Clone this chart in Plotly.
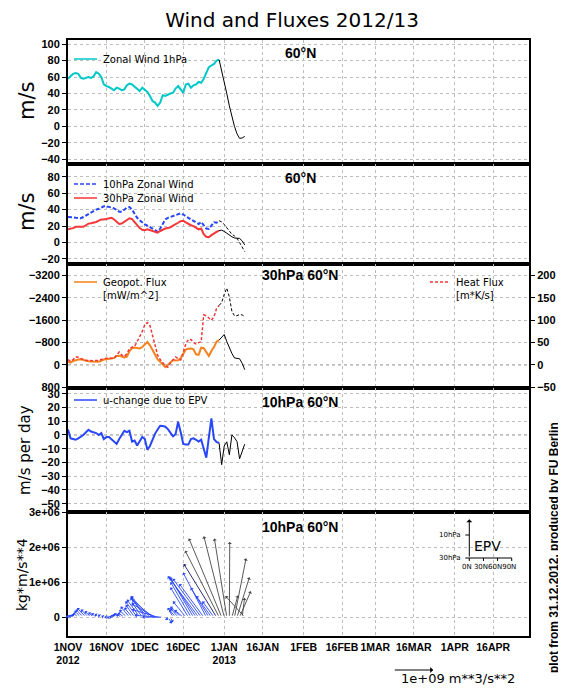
import pandas as pd
import plotly.graph_objects as go

# Analyse 1.11.-30.12.2012, Vorhersage 30.12.2012-9.1.2013
obs_dates = pd.date_range("2012-11-01", "2012-12-30", freq="D")
fc_dates = pd.date_range("2012-12-30", "2013-01-09", freq="D")
ep_dates = pd.date_range("2012-11-01", "2013-01-09", freq="D")

# Zonalwind 1hPa, 60N [m/s]
u1_obs = [58, 61, 64, 65, 64, 59, 58, 59, 60, 59,
          61, 66, 64, 60, 51, 49, 48, 46, 44, 47,
          46, 44, 45, 50, 52, 51, 48, 45, 43, 47,
          44, 42, 37, 31, 29, 25, 29, 38, 37, 39,
          40, 41, 46, 49, 45, 41, 51, 52, 47, 50,
          51, 54, 53, 58, 65, 72, 74, 76, 80, 81]
u1_fc = [81, 68, 55, 40, 25, 12, 0, -9, -14.5, -14, -12]

# Zonalwind 10hPa / 30hPa, 60N [m/s]
u10_obs = [31, 31, 30.5, 30, 29.5, 29.5, 31, 33, 35, 37,
           39, 40, 41, 43, 44, 44, 43.6, 42.5, 41.5, 39.5,
           37.5, 37.5, 40, 42.5, 43, 40, 35, 30, 27, 24,
           22, 20.5, 19, 17, 15, 13, 17, 23, 28, 30,
           31, 32, 33, 34.5, 35.5, 34, 31.5, 30, 28, 26,
           24, 22.5, 25, 21, 17, 16.5, 20, 24.5, 24, 26.5]
u10_fc = [26.5, 25, 22, 18, 14, 10, 8, 5, 0, -5, -11]
u30_obs = [16, 16.5, 17.5, 19, 19, 18.5, 19, 21, 23, 23.5,
           24, 25, 26.5, 28, 28, 28.5, 29.5, 30, 28, 25,
           22.5, 23, 25.5, 28, 29.5, 28.5, 25, 21, 17.5, 15.5,
           15, 16, 15, 14, 13, 12, 14, 16, 17, 17.5,
           18.5, 20.5, 22, 24, 26, 26.5, 24.5, 22.5, 21, 20,
           18, 16, 17, 10, 7, 6.5, 9, 11.5, 13, 14.5]
u30_fc = [14.5, 15, 13.5, 11, 9, 7, 5.5, 5, 5, 2, -3]

# Geopotentialfluss [mW/m^2] und Waermefluss [m*K/s], 30hPa 60N
geo_obs = [-120, -85, -140, -180, -195, -200, -170, -150, -135, -120,
           -118, -115, -118, -150, -195, -205, -215, -225, -250, -320,
           -330, -300, -270, -300, -500, -600, -620, -610, -590, -640,
           -720, -820, -700, -520, -330, -200, -110, -20, 80, 0,
           -90, -175, -160, -170, -240, -400, -550, -580, -590, -560,
           -380, -360, -620, -600, -480, -320, -500, -640, -830, -890]
geo_fc = [-890, -1000, -1090, -840, -600, -410, -250, -230, -220, -60, 170]
heat_obs = [12, 8, 12, 18, 17, 14, 12, 10, 9.5, 9.5,
            9.5, 10, 10, 12, 14.5, 15, 15, 15, 15, 22,
            29, 22, 19, 25, 36, 40, 42, 52, 63, 75,
            90, 95, 88, 65, 45, 22, 12, 5, -2, -5,
            5, 11, 18, 14, 11, 28, 47, 57, 57, 50,
            47, 50, 52, 112, 110, 105, 100, 108, 126, 133]
heat_fc = [133, 140, 158, 172, 152, 120, 110, 110, 113, 112, 108]

# Windaenderung durch EP-Flussdivergenz, 10hPa 60N [m/s/Tag]
epv_obs = [4, -2.5, -3, -3.5, -2.5, -1.5, 0, 2, 3.8, 2.5,
           1.8, 1.4, 0, 1.4, -3, -1.5, -1.5, -3, -4.5, -6.5,
           -3, 0.5, 3, 2, 3, -4.8, -4, -7.7, -4, -1.5,
           -3, -10.8, -8, -3, 1, 4, 6.7, 6.5, 6, 4.3,
           1.5, -1, 0.5, 9.6, 2, -6.5, -7, -7, -3, -2.5,
           -3.5, -4.8, -3.4, -10, -16.5, -1.7, 12, -3, -5, -6]
epv_fc = [-6, -21.6, -8, -5, -14.4, 0, -2, -4.8, -17.3, -12, -6.7]

# EP-Flussvektoren 10hPa 60N: Fy [1e9 m**3/s**2], Fz [kg*m/s**4]
ep_fy = [-0.05, -0.06, -0.08, -0.10, -0.13, -0.16, -0.19, -0.22, -0.19, -0.16,
         -0.13, -0.12, -0.10, -0.08, -0.06, -0.05, -0.05, -0.06, -0.08, -0.10,
         -0.13, -0.14, -0.16, -0.19, -0.22, -0.19, -0.22, -0.29, -0.32, -0.26,
         -0.35, -0.42, -0.48, -0.51, -0.58, -0.64, -0.64, -0.51, 0.06, 0.10,
         0.06, -0.13, -0.16, -0.19, -0.26, -0.22, -0.32, -0.45, -0.51, -0.58,
         -0.67, -0.77, -0.71, -0.61, -0.58, -0.45, -0.38, -0.29, -0.82, -0.85,
         -0.82, -0.51, -0.31, 0.01, 0.15, 0.29, 0.31, 0.28, 0.06, -0.48]
ep_fz = [0.04e6, 0.05e6, 0.06e6, 0.08e6, 0.12e6, 0.18e6, 0.22e6, 0.26e6, 0.22e6, 0.17e6,
         0.13e6, 0.11e6, 0.09e6, 0.07e6, 0.04e6, 0.0, -0.03e6, 0.02e6, 0.05e6, 0.08e6,
         0.10e6, 0.08e6, 0.12e6, 0.20e6, 0.30e6, 0.27e6, 0.35e6, 0.45e6, 0.50e6, 0.42e6,
         0.58e6, 0.55e6, 0.60e6, 0.50e6, 0.38e6, 0.22e6, 0.05e6, 0.0, -0.08e6, -0.18e6,
         -0.15e6, 0.27e6, 0.22e6, 0.25e6, 0.30e6, 0.20e6, 0.45e6, 0.85e6, 1.00e6, 1.12e6,
         1.15e6, 1.17e6, 1.10e6, 0.95e6, 1.27e6, 0.84e6, 0.60e6, 0.45e6, 1.52e6, 1.90e6,
         2.25e6, 2.31e6, 2.25e6, 2.15e6, 0.62e6, 1.68e6, 1.14e6, 0.74e6, 0.55e6, 0.60e6]

tick_dates = ["2012-11-01", "2012-11-16", "2012-12-01", "2012-12-16", "2013-01-01",
              "2013-01-16", "2013-02-01", "2013-02-16", "2013-03-01", "2013-03-16",
              "2013-04-01", "2013-04-16"]
tick_text = ["1NOV<br>2012", "16NOV", "1DEC", "16DEC", "1JAN<br>2013", "16JAN",
             "1FEB", "16FEB", "1MAR", "16MAR", "1APR", "16APR"]

CYAN = "rgb(0,200,200)"
BLUE = "rgb(40,70,250)"
RED = "rgb(245,55,55)"
ORANGE = "rgb(245,130,30)"
DAYS_PER_1E9 = 15.6   # Laenge des Referenzpfeils (1e+09) in Tagen

# Die Seite hat 8px Rand -> Figur 8px kleiner, Koordinaten unten in Seitenpixeln
OFF = 8
W, H = 566 - OFF, 695 - 2 * OFF

# Seitenpixel -> paper (Plotbereich 68..529 x 40..636)
def px(x):
    return (x - 68) / 461

def py(y):
    return (636 - y) / 596

fig = go.Figure()

line1 = dict(color=CYAN, width=2)
line10 = dict(color=BLUE, width=2, dash="4px,2px")
line30 = dict(color=RED, width=2)
line_geo = dict(color=ORANGE, width=2)
line_heat = dict(color=RED, width=1.5, dash="3px,2px")
line_epv = dict(color=BLUE, width=2)
fc_solid = dict(color="black", width=1)
fc_dash = dict(color="black", width=1, dash="3px,2px")

def add(x, y, line, xa, ya):
    fig.add_trace(go.Scatter(x=x, y=y, mode="lines", line=line, xaxis=xa, yaxis=ya,
                             showlegend=False))

add(obs_dates, u1_obs, line1, "x", "y")
add(fc_dates, u1_fc, fc_solid, "x", "y")
add(obs_dates, u10_obs, line10, "x2", "y2")
add(obs_dates, u30_obs, line30, "x2", "y2")
add(fc_dates, u10_fc, fc_dash, "x2", "y2")
add(fc_dates, u30_fc, fc_solid, "x2", "y2")
add(obs_dates, geo_obs, line_geo, "x3", "y3")
add(fc_dates, geo_fc, fc_solid, "x3", "y3")
add(obs_dates, heat_obs, line_heat, "x3", "y6")
add(fc_dates, heat_fc, fc_dash, "x3", "y6")
add(obs_dates, epv_obs, line_epv, "x4", "y4")
add(fc_dates, epv_fc, fc_solid, "x4", "y4")
# Fusspunkte der Vektoren (unsichtbar)
fig.add_trace(go.Scatter(x=ep_dates, y=[0] * len(ep_dates), mode="markers", showlegend=False,
                         marker=dict(size=1, color="rgba(0,0,0,0)"), xaxis="x5", yaxis="y5",
                         hoverinfo="skip"))

annotations = []
for i, d in enumerate(ep_dates):
    head = d + pd.Timedelta(days=ep_fy[i] * DAYS_PER_1E9)
    if d >= pd.Timestamp("2012-12-30"):
        col = "rgb(70,70,70)"
    elif d == pd.Timestamp("2012-12-29"):
        col = "rgb(20,20,110)"
    else:
        col = BLUE
    annotations.append(dict(
        x=head, y=ep_fz[i], ax=d, ay=0, xref="x5", yref="y5", axref="x5", ayref="y5",
        text="", showarrow=True, arrowhead=1, arrowsize=0.8, arrowwidth=0.9,
        arrowcolor=col, standoff=0, startstandoff=0))

tick_font = dict(family="Liberation Sans", size=11, color="black", weight="bold")
lab_font = dict(family="Liberation Sans", size=14, color="black", weight="bold")
leg_font = dict(family="DejaVu Sans", size=10, color="black")

def x_axis(anchor, labels=False):
    return dict(type="date", range=["2012-11-01", "2013-04-30"], anchor=anchor,
                tickvals=tick_dates, ticktext=tick_text, showticklabels=labels,
                tickfont=dict(family="Liberation Sans", size=10.5, color="black",
                              weight="bold"),
                tickangle=0, automargin=False, ticks="", showgrid=True,
                gridcolor="#bdbdbd", griddash="dot", gridwidth=1, showline=True,
                linecolor="black", linewidth=2, mirror=True, zeroline=False)

def y_axis(domain, rng, dtick, anchor, **kw):
    d = dict(domain=domain, range=rng, dtick=dtick, anchor=anchor, tickfont=tick_font,
             ticks="outside", ticklen=4, tickcolor="black", showgrid=True,
             gridcolor="#bdbdbd", griddash="dot", gridwidth=1, showline=True,
             linecolor="black", linewidth=2, mirror=True, zeroline=False,
             automargin=False)
    d.update(kw)
    return d

def dom(y0, y1):
    return [py(y1), py(y0)]

shapes = []
for yr in ["y", "y2", "y3", "y4"]:
    shapes.append(dict(type="line", xref="x domain", yref=yr, x0=0, x1=1, y0=0, y1=0,
                       line=dict(color="#909090", width=1, dash="3px,3px"), layer="below"))

# Legendeneintraege
for x0, x1, yy, ln, txt in [
        (74, 97, 59, line1, "Zonal Wind 1hPa"),
        (74, 97, 184, line10, "10hPa Zonal Wind"),
        (74, 97, 198, line30, "30hPa Zonal Wind"),
        (74, 97, 282, line_geo, "Geopot. Flux<br>[mW/m^2]"),
        (430, 450, 282, line_heat, "Heat Flux<br>[m*K/s]"),
        (74, 97, 400, line_epv, "u-change due to EPV")]:
    shapes.append(dict(type="line", xref="paper", yref="paper", x0=px(x0), x1=px(x1),
                       y0=py(yy), y1=py(yy), line=dict(ln, width=1.5)))
    annotations.append(dict(x=px(x1 + 4), y=py(yy - 7), xref="paper", yref="paper",
                            text=txt, showarrow=False, xanchor="left", yanchor="top",
                            align="left", font=leg_font))

# EPV-Schluessel (Achsenkreuz)
kx, ky = "x5 domain", "y5 domain"
shapes += [
    dict(type="line", xref=kx, yref=ky, x0=0.8705, x1=0.9625, y0=0.629, y1=0.629,
         line=dict(color="black", width=1)),
    dict(type="line", xref=kx, yref=ky, x0=0.8618, x1=0.8705, y0=0.8145, y1=0.8145,
         line=dict(color="black", width=1)),
    dict(type="line", xref=kx, yref=ky, x0=0.8618, x1=0.8705, y0=0.629, y1=0.629,
         line=dict(color="black", width=1)),
]
for fx in [0.8705, 0.9012, 0.9318, 0.9625]:
    shapes.append(dict(type="line", xref=kx, yref=ky, x0=fx, x1=fx, y0=0.629, y1=0.605,
                       line=dict(color="black", width=1)))
annotations.append(dict(x=0.8705, y=0.941, ax=0.8705, ay=0.629, xref=kx, yref=ky,
                        axref=kx, ayref=ky, text="", showarrow=True, arrowhead=1,
                        arrowsize=1, arrowwidth=1, arrowcolor="black", standoff=0))
small = dict(family="DejaVu Sans", size=7, color="black")
annotations += [
    dict(x=0.857, y=0.8145, xref=kx, yref=ky, text="10hPa", showarrow=False,
         xanchor="right", yanchor="middle", font=small),
    dict(x=0.857, y=0.629, xref=kx, yref=ky, text="30hPa", showarrow=False,
         xanchor="right", yanchor="middle", font=small),
    dict(x=0.913, y=0.555, xref=kx, yref=ky, text="0N 30N60N90N", showarrow=False,
         xanchor="center", yanchor="middle", font=small),
    dict(x=0.911, y=0.726, xref=kx, yref=ky, text="EPV", showarrow=False,
         xanchor="center", yanchor="middle",
         font=dict(family="DejaVu Sans", size=14, color="black")),
]

# Referenzpfeil 1e+09 unter der Grafik
key_tail = pd.Timestamp("2013-03-08")
annotations.append(dict(x=key_tail + pd.Timedelta(days=DAYS_PER_1E9), y=py(670),
                        ax=key_tail, ay=0, xref="x5", yref="paper", axref="x5",
                        ayref="pixel", text="", showarrow=True, arrowhead=1,
                        arrowsize=1, arrowwidth=1, arrowcolor="black", standoff=0))
annotations.append(dict(x=px(458), y=py(678), xref="paper", yref="paper",
                        text="1e+09 m**3/s**2", showarrow=False, xanchor="center",
                        yanchor="middle",
                        font=dict(family="DejaVu Sans", size=13, color="black")))

# Panel-Beschriftungen
for txt, yy in [("60°N", 53), ("60°N", 178), ("30hPa 60°N", 275),
                ("10hPa 60°N", 402), ("10hPa 60°N", 527)]:
    annotations.append(dict(x=px(300), y=py(yy), xref="paper", yref="paper",
                            text=txt, showarrow=False, xanchor="center",
                            yanchor="middle", font=lab_font))

# y-Achsentitel
for txt, yy, xx, sz in [("m/s", 101, 27, 21), ("m/s", 212, 27, 21),
                        ("m/s per day", 450, 25, 15), ("kg*m/s**4", 575, 22, 14)]:
    annotations.append(dict(x=px(xx), y=py(yy), xref="paper", yref="paper", text=txt,
                            showarrow=False, textangle=-90, xanchor="center",
                            yanchor="middle",
                            font=dict(family="DejaVu Sans", size=sz, color="black")))

annotations.append(dict(x=px(554), y=py(548), xref="paper", yref="paper",
                        text="plot from 31.12.2012, produced by FU Berlin", showarrow=False,
                        textangle=-90, xanchor="center", yanchor="middle",
                        font=dict(family="Liberation Sans", size=12, color="black",
                                  weight="bold")))

fig.update_layout(
    width=W, height=H,
    margin=dict(l=68 - OFF, r=W - (529 - OFF), t=40 - OFF, b=H - (636 - OFF),
                autoexpand=False),
    paper_bgcolor="white", plot_bgcolor="white",
    showlegend=False,
    title=dict(text="Wind and Fluxes 2012/13", x=(292 - OFF) / W, y=1 - (20 - OFF) / H,
               xanchor="center", yanchor="middle",
               font=dict(family="DejaVu Sans", size=20, color="black")),
    xaxis=x_axis("y"), xaxis2=x_axis("y2"), xaxis3=x_axis("y3"), xaxis4=x_axis("y4"),
    xaxis5=x_axis("y5", labels=True),
    yaxis=y_axis(dom(40, 163.5), [-45, 105], 20, "x"),
    yaxis2=y_axis(dom(163.5, 263.5), [-25.5, 96], 20, "x2"),
    yaxis3=y_axis(dom(263.5, 387.5), [808, -3632], 800, "x3"),
    yaxis6=y_axis(dom(263.5, 387.5), [-50.5, 227], 50, "x3", overlaying="y3",
                  side="right", showgrid=False, mirror=False),
    yaxis4=y_axis(dom(387.5, 512), [-56, 34.5], 10, "x4"),
    yaxis5=y_axis(dom(512, 636), [-0.54e6, 3.005e6], 1e6, "x5",
                  tickvals=[0, 1e6, 2e6, 3e6], ticktext=["0", "1e+06", "2e+06", "3e+06"]),
    shapes=shapes,
    annotations=annotations,
)

fig.write_html("out.html")
